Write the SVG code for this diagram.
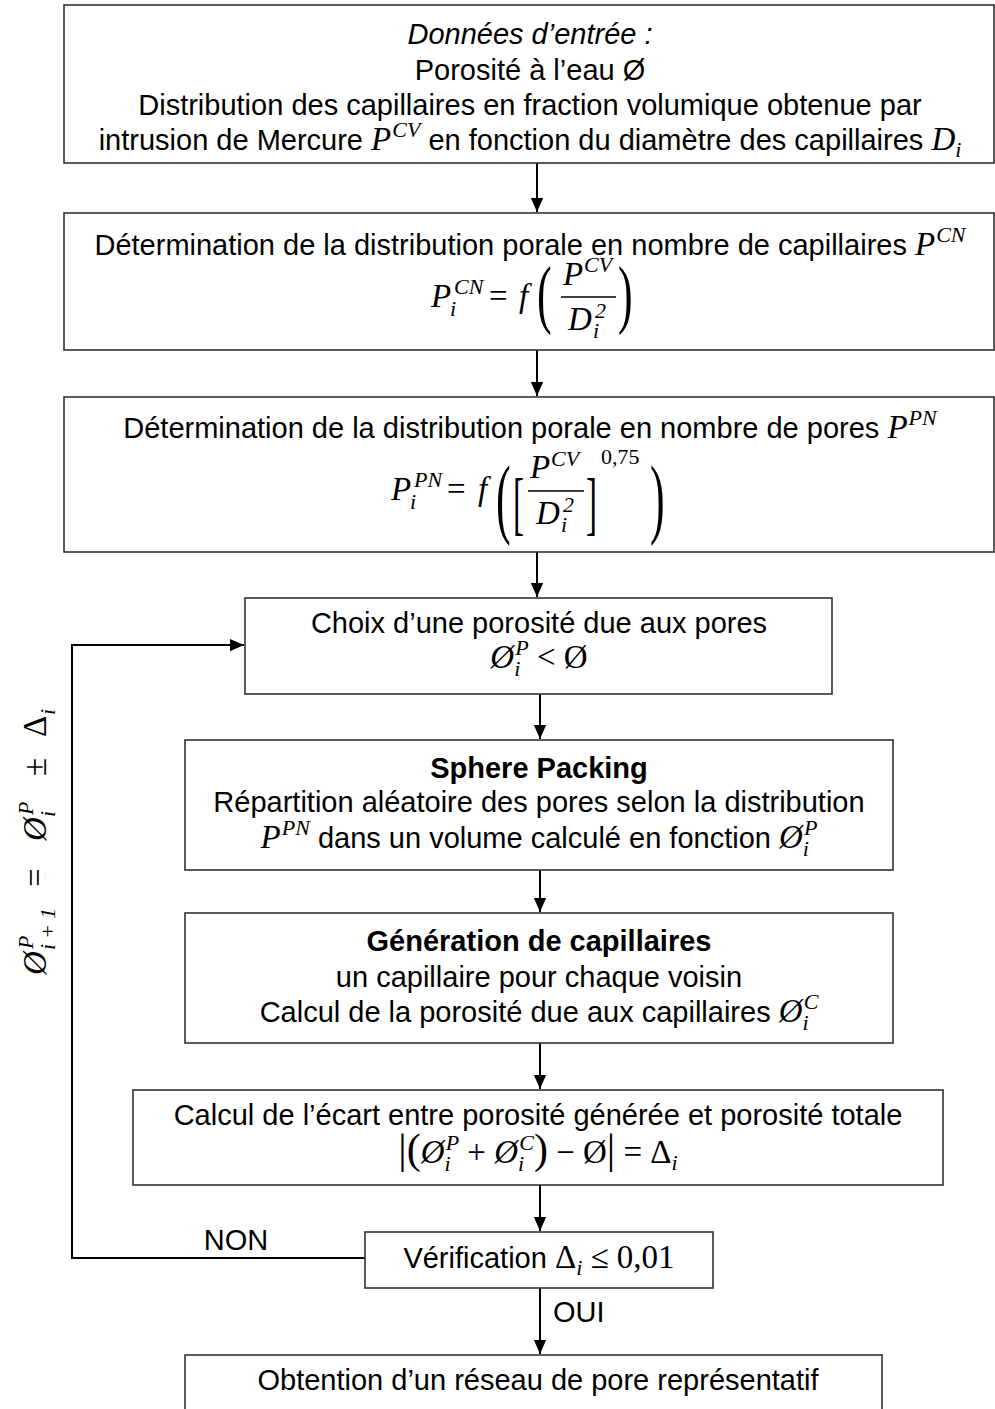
<svg xmlns="http://www.w3.org/2000/svg" width="995" height="1409" viewBox="0 0 995 1409">
<style>
.box{fill:#fff;stroke:#333;stroke-width:1.6}
.t{font-family:"Liberation Sans",Arial,sans-serif;font-size:29px;fill:#000;text-anchor:middle}
.b{font-weight:bold}
.it{font-style:italic}
.m{font-family:"Liberation Serif","DejaVu Serif",serif;font-style:italic;font-size:33px}
.u{font-family:"Liberation Serif","DejaVu Serif",serif;font-style:normal;font-size:33px}
.s{font-size:22px}
.big{font-size:42px}
.st{text-anchor:start}
.edge{stroke:#000;stroke-width:2;fill:none}
.bar{stroke:#000;stroke-width:1.6}
.paren{font-family:"Liberation Serif","DejaVu Serif",serif;font-size:44px;fill:#000}
</style>
<defs>
<marker id="ah" markerUnits="userSpaceOnUse" markerWidth="14" markerHeight="18" refX="16" refY="7" orient="auto" viewBox="0 0 16 14">
<path d="M0,0 L16,7 L0,14 Z" fill="#000"/>
</marker>
</defs>

<g id="connectors">
<line class="edge" x1="537" y1="163" x2="537" y2="212" marker-end="url(#ah)"/>
<line class="edge" x1="537" y1="350" x2="537" y2="396" marker-end="url(#ah)"/>
<line class="edge" x1="537" y1="552" x2="537" y2="597" marker-end="url(#ah)"/>
<line class="edge" x1="540" y1="694" x2="540" y2="739" marker-end="url(#ah)"/>
<line class="edge" x1="540" y1="870" x2="540" y2="912" marker-end="url(#ah)"/>
<line class="edge" x1="540" y1="1043" x2="540" y2="1089" marker-end="url(#ah)"/>
<line class="edge" x1="540" y1="1185" x2="540" y2="1231" marker-end="url(#ah)"/>
<line class="edge" x1="540" y1="1288" x2="540" y2="1354" marker-end="url(#ah)"/>
<polyline class="edge" points="365,1258 72,1258 72,645 244,645" marker-end="url(#ah)"/>
<text class="t" x="236" y="1250">NON</text>
<text class="t st" x="553" y="1322">OUI</text>
<g id="loop-label" transform="translate(46,975) rotate(-90)">
<text class="m st" x="0" y="0">Ø</text>
<text class="m st s" x="26" y="-13">P</text>
<text class="m st s" x="25" y="9" textLength="42" lengthAdjust="spacing">i+1</text>
<text class="u st" x="88" y="0">=</text>
<text class="m st" x="134" y="0">Ø</text>
<text class="m st s" x="160" y="-13">P</text>
<text class="m st s" x="158" y="9">i</text>
<text class="u st" x="199" y="0">±</text>
<text class="u st" x="238" y="0">Δ</text>
<text class="m st s" x="260" y="9">i</text>
</g>
</g>

<g id="n1">
<rect class="box" x="64" y="5" width="930" height="158"/>
<text class="t it" x="530" y="44">Données d’entrée :</text>
<text class="t" x="530" y="80">Porosité à l’eau Ø</text>
<text class="t" x="530" y="115">Distribution des capillaires en fraction volumique obtenue par</text>
<text class="t" x="530" y="150">intrusion de Mercure <tspan class="m">P<tspan class="s" dx="1" dy="-13">CV</tspan></tspan><tspan dy="13"> en fonction du diamètre des capillaires </tspan><tspan class="m">D<tspan class="s" dy="7">i</tspan></tspan></text>
</g>

<g id="n2">
<rect class="box" x="64" y="213" width="930" height="137"/>
<text class="t" x="530" y="255">Détermination de la distribution porale en nombre de capillaires <tspan class="m">P<tspan class="s" dx="1" dy="-13">CN</tspan></tspan></text>
<text class="m st" x="431" y="307">P</text>
<text class="m st s" x="450" y="316">i</text>
<text class="m st s" x="454" y="294">CN</text>
<text class="u st" x="489" y="307">=</text>
<text class="m st" x="519" y="307">f</text>
<text class="paren" transform="translate(537,319) scale(1,1.75)">(</text>
<text class="m st" x="563" y="285">P</text>
<text class="m st s" x="584" y="272">CV</text>
<line class="bar" x1="561" y1="297" x2="616" y2="297"/>
<text class="m st" x="568" y="330">D</text>
<text class="m st s" x="595" y="318">2</text>
<text class="m st s" x="593" y="338">i</text>
<text class="paren" transform="translate(618,319) scale(1,1.75)">)</text>
</g>

<g id="n3">
<rect class="box" x="64" y="397" width="930" height="155"/>
<text class="t" x="530" y="438">Détermination de la distribution porale en nombre de pores <tspan class="m">P<tspan class="s" dx="1" dy="-13">PN</tspan></tspan></text>
<text class="m st" x="391" y="500">P</text>
<text class="m st s" x="410" y="509">i</text>
<text class="m st s" x="414" y="487">PN</text>
<text class="u st" x="447" y="500">=</text>
<text class="m st" x="478" y="500">f</text>
<text class="paren" transform="translate(496,527) scale(1,2.0)">(</text>
<text class="u st" transform="translate(513,527) scale(1,2.1)" font-size="40">[</text>
<text class="m st" x="530" y="478">P</text>
<text class="m st s" x="551" y="466">CV</text>
<line class="bar" x1="528" y1="491" x2="584" y2="491"/>
<text class="m st" x="536" y="524">D</text>
<text class="m st s" x="563" y="512">2</text>
<text class="m st s" x="561" y="532">i</text>
<text class="u st" transform="translate(586,527) scale(1,2.1)" font-size="40">]</text>
<text class="u st s" x="601" y="464">0,75</text>
<text class="paren" transform="translate(650,527) scale(1,2.0)">)</text>
</g>

<g id="n4">
<rect class="box" x="245" y="598" width="587" height="96"/>
<text class="t" x="539" y="633">Choix d’une porosité due aux pores</text>
<text class="t" x="539" y="668"><tspan class="m">Ø<tspan class="s" dy="8">i</tspan><tspan class="s" dx="-5" dy="-21">P</tspan></tspan><tspan class="u" dy="13"> &lt; Ø</tspan></text>
</g>

<g id="n5">
<rect class="box" x="185" y="740" width="708" height="130"/>
<text class="t b" x="539" y="778">Sphere Packing</text>
<text class="t" x="539" y="812">Répartition aléatoire des pores selon la distribution</text>
<text class="t" x="539" y="848"><tspan class="m">P<tspan class="s" dx="1" dy="-13">PN</tspan></tspan><tspan dy="13"> dans un volume calculé en fonction </tspan><tspan class="m">Ø<tspan class="s" dy="8">i</tspan><tspan class="s" dx="-5" dy="-21">P</tspan></tspan></text>
</g>

<g id="n6">
<rect class="box" x="185" y="913" width="708" height="130"/>
<text class="t b" x="539" y="951">Génération de capillaires</text>
<text class="t" x="539" y="987">un capillaire pour chaque voisin</text>
<text class="t" x="539" y="1022">Calcul de la porosité due aux capillaires <tspan class="m">Ø<tspan class="s" dy="8">i</tspan><tspan class="s" dx="-5" dy="-21">C</tspan></tspan></text>
</g>

<g id="n7">
<rect class="box" x="133" y="1090" width="810" height="95"/>
<text class="t" x="538" y="1125">Calcul de l’écart entre porosité générée et porosité totale</text>
<text class="t" x="538" y="1163"><tspan class="u big">|(</tspan><tspan class="m">Ø<tspan class="s" dy="8">i</tspan><tspan class="s" dx="-5" dy="-21">P</tspan></tspan><tspan class="u" dy="13"> + </tspan><tspan class="m">Ø<tspan class="s" dy="8">i</tspan><tspan class="s" dx="-5" dy="-21">C</tspan></tspan><tspan class="u big" dy="13">)</tspan><tspan class="u"> − Ø</tspan><tspan class="u big">|</tspan><tspan class="u"> = Δ</tspan><tspan class="m s" dy="7">i</tspan></text>
</g>

<g id="n8">
<rect class="box" x="365" y="1232" width="348" height="56"/>
<text class="t" x="539" y="1268">Vérification <tspan class="u">Δ</tspan><tspan class="m s" dy="7">i</tspan><tspan class="u" dy="-7"> ≤ 0,01</tspan></text>
</g>

<g id="n9">
<rect class="box" x="185" y="1355" width="697" height="70"/>
<text class="t" x="538" y="1390">Obtention d’un réseau de pore représentatif</text>
</g>
</svg>
